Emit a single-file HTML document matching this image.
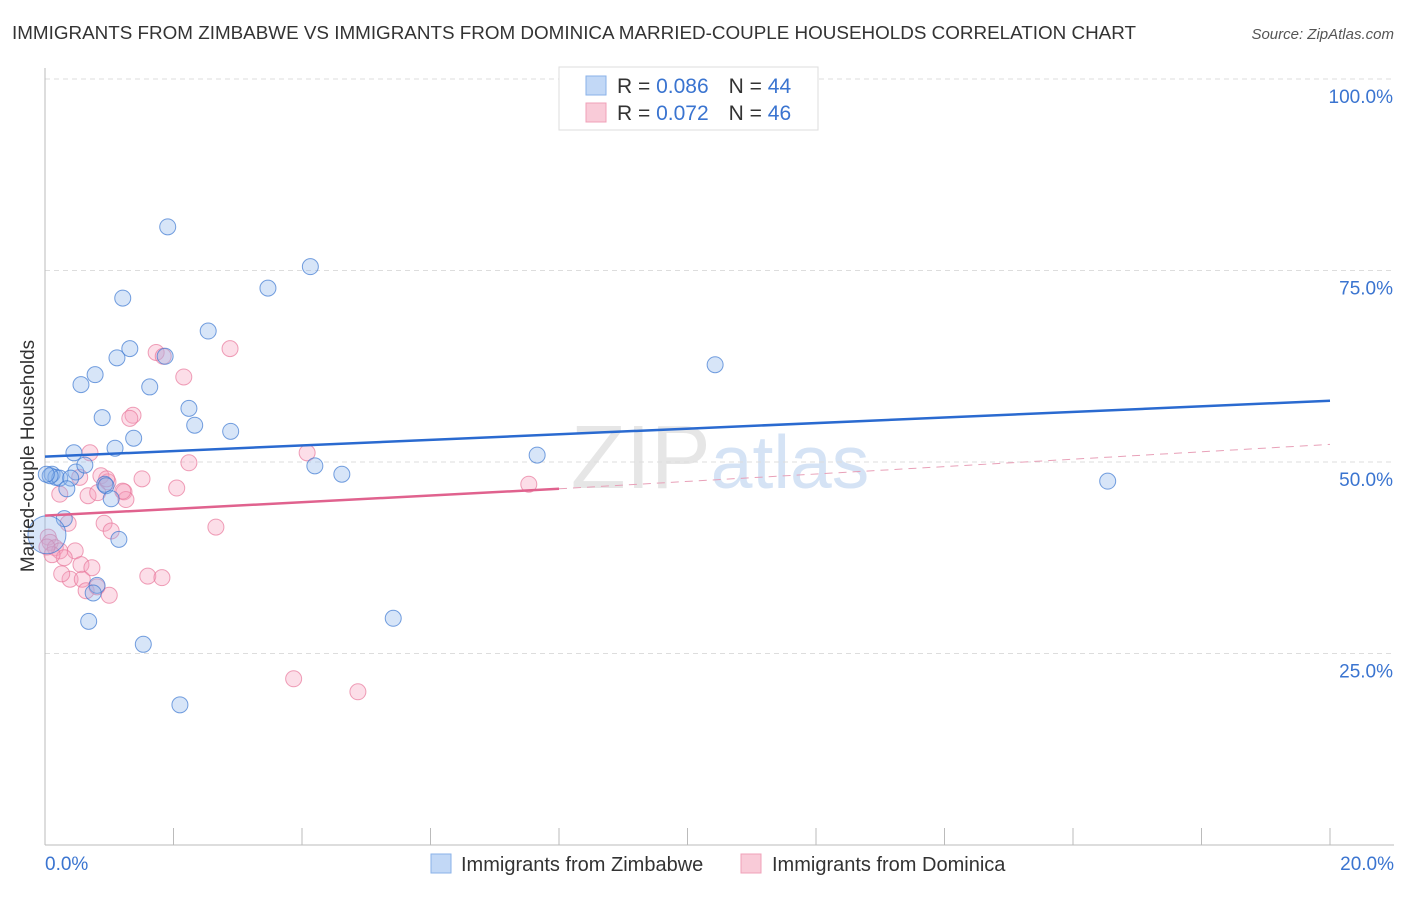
<!DOCTYPE html>
<html><head><meta charset="utf-8"><style>
body{margin:0;background:#fff;font-family:"Liberation Sans",sans-serif;}
svg text{font-family:"Liberation Sans",sans-serif;}
</style></head><body>
<svg id="chart" width="1406" height="892">
<text x="12" y="39" font-size="18" fill="#333" textLength="1124" lengthAdjust="spacingAndGlyphs">IMMIGRANTS FROM ZIMBABWE VS IMMIGRANTS FROM DOMINICA MARRIED-COUPLE HOUSEHOLDS CORRELATION CHART</text>
<text x="1394" y="39" font-size="15" fill="#555" font-style="italic" text-anchor="end">Source: ZipAtlas.com</text>
<text x="720" y="488" font-size="90" fill="#e6e6e6" text-anchor="middle" font-family="Liberation Serif">ZIP<tspan fill="#d5e3f5" font-family="Liberation Sans" font-size="75">atlas</tspan></text>
<g id="grid"></g><g id="axes"></g><g id="pts"></g><g id="trend"></g>
<text transform="translate(34,456) rotate(-90)" font-size="19" fill="#333" text-anchor="middle">Married-couple Households</text>
<g>
<rect x="559" y="67" width="259" height="63" fill="#fff" stroke="#ddd"/>
<rect x="586" y="76" width="20" height="19" fill="#c2d8f6" stroke="#8ab2e8"/>
<rect x="586" y="103" width="20" height="19" fill="#f9cbd8" stroke="#f0a0b8"/>
<text x="617" y="93" font-size="21" fill="#333">R = <tspan fill="#3a74d0">0.086</tspan><tspan dx="20">N = </tspan><tspan fill="#3a74d0">44</tspan></text>
<text x="617" y="120" font-size="21" fill="#333">R = <tspan fill="#3a74d0">0.072</tspan><tspan dx="20">N = </tspan><tspan fill="#3a74d0">46</tspan></text>
</g>
<g>
<rect x="431" y="854" width="20" height="19" fill="#c2d8f6" stroke="#8ab2e8"/>
<text x="461" y="871" font-size="20" fill="#333">Immigrants from Zimbabwe</text>
<rect x="741" y="854" width="20" height="19" fill="#f9cbd8" stroke="#f0a0b8"/>
<text x="772" y="871" font-size="20" fill="#333">Immigrants from Dominica</text>
</g>
</svg>
<script>
const yTicks=[25,50,75,100];
const yTickLabels=["25.0%","50.0%","75.0%","100.0%"];
const xTickLabels=["0.0%","20.0%"];
const blueX=[1.91,4.13,1.21,3.47,2.54,1.32,1.12,1.87,0.78,0.56,1.63,10.43,2.24,0.89,2.33,2.89,1.38,1.09,0.45,7.66,4.2,4.62,0.48,0.62,0.11,0.17,0.23,0.40,0.08,16.54,0.34,0.93,0.95,1.03,0.30,1.15,0.03,0.81,0.75,5.42,0.68,1.53,2.1,0.02];
const blueY=[80.7,75.5,71.4,72.7,67.1,64.8,63.6,63.8,61.4,60.1,59.8,62.7,57.0,55.8,54.8,54.0,53.1,51.8,51.2,50.9,49.5,48.4,48.7,49.6,48.4,48.0,47.9,47.9,48.2,47.5,46.5,47.1,46.9,45.2,42.6,39.9,40.5,33.9,32.9,29.6,29.2,26.2,18.3,48.4];
const pinkX=[1.73,1.84,2.88,2.16,1.37,1.32,0.70,2.24,4.08,0.54,0.87,0.98,1.51,2.05,0.67,0.82,1.23,1.26,0.23,0.36,2.66,0.92,1.03,0.05,0.08,0.16,0.23,0.47,0.30,0.11,0.56,0.73,0.39,0.26,0.58,1.0,1.6,1.82,0.64,0.81,7.53,3.87,4.87,0.03,0.96,1.21];
const pinkY=[64.3,63.8,64.8,61.1,56.1,55.7,51.2,49.9,51.2,48.0,48.2,47.4,47.8,46.6,45.6,46.0,46.1,45.1,45.8,42.0,41.5,42.0,41.0,40.2,39.5,38.8,38.4,38.4,37.5,37.9,36.6,36.2,34.7,35.4,34.7,32.6,35.1,34.9,33.2,33.7,47.1,21.7,20.0,38.9,47.8,46.2];
const ns="http://www.w3.org/2000/svg";
const X=v=>45+v/20*1285, Y=v=>845-v/100*766;
function mk(p,t,a){const e=document.createElementNS(ns,t);for(const k in a)e.setAttribute(k,a[k]);p.appendChild(e);return e;}
const g=document.getElementById('grid'),ax=document.getElementById('axes');
yTicks.forEach((t,i)=>{
 const l=mk(g,'line',{x1:45,x2:1394,y1:Y(t),y2:Y(t),stroke:'#ddd','stroke-dasharray':'5,4'});
 
 
 const tx=mk(ax,'text',{x:1393,y:Y(t)+24,'font-size':19,fill:'#3a74d0','text-anchor':'end'});tx.textContent=yTickLabels[i];
 
 
});
mk(ax,'line',{x1:45,x2:45,y1:68,y2:845,stroke:'#bbb'});
mk(ax,'line',{x1:45,x2:1394,y1:845,y2:845,stroke:'#bbb'});
for(let i=1;i<=10;i++){mk(ax,'line',{x1:X(i*2),x2:X(i*2),y1:828,y2:845,stroke:'#bbb'});}
const xl0=mk(ax,'text',{x:45,y:870,'font-size':19,fill:'#3a74d0'});xl0.textContent=xTickLabels[0];


const xl1=mk(ax,'text',{x:1394,y:870,'font-size':19,fill:'#3a74d0','text-anchor':'end'});xl1.textContent=xTickLabels[1];


const pg=document.getElementById('pts');
pinkX.forEach((v,i)=>{const c=mk(pg,'circle',{cx:X(v),cy:Y(pinkY[i]),r:8,fill:'rgba(245,160,188,0.35)',stroke:'rgba(232,120,155,0.7)','stroke-width':1});
 
 });
blueX.forEach((v,i)=>{const c=mk(pg,'circle',{cx:X(v),cy:Y(blueY[i]),r:i==36?19:8,fill:'rgba(140,180,235,0.35)',stroke:'rgba(60,120,210,0.7)','stroke-width':1});
 
 });
const tg=document.getElementById('trend');
const bl=mk(tg,'line',{x1:X(0),y1:Y(50.7),x2:X(20),y2:Y(58.0),stroke:'#2a6ad0','stroke-width':2.5});


const pl=mk(tg,'line',{x1:X(0),y1:Y(43.0),x2:X(8.0),y2:Y(46.5),stroke:'#e0628e','stroke-width':2.5});


const pd=mk(tg,'line',{x1:X(8.0),y1:Y(46.5),x2:X(20),y2:Y(52.3),stroke:'#e8a0b8','stroke-width':1,'stroke-dasharray':'8,6'});


</script>
</body></html>
